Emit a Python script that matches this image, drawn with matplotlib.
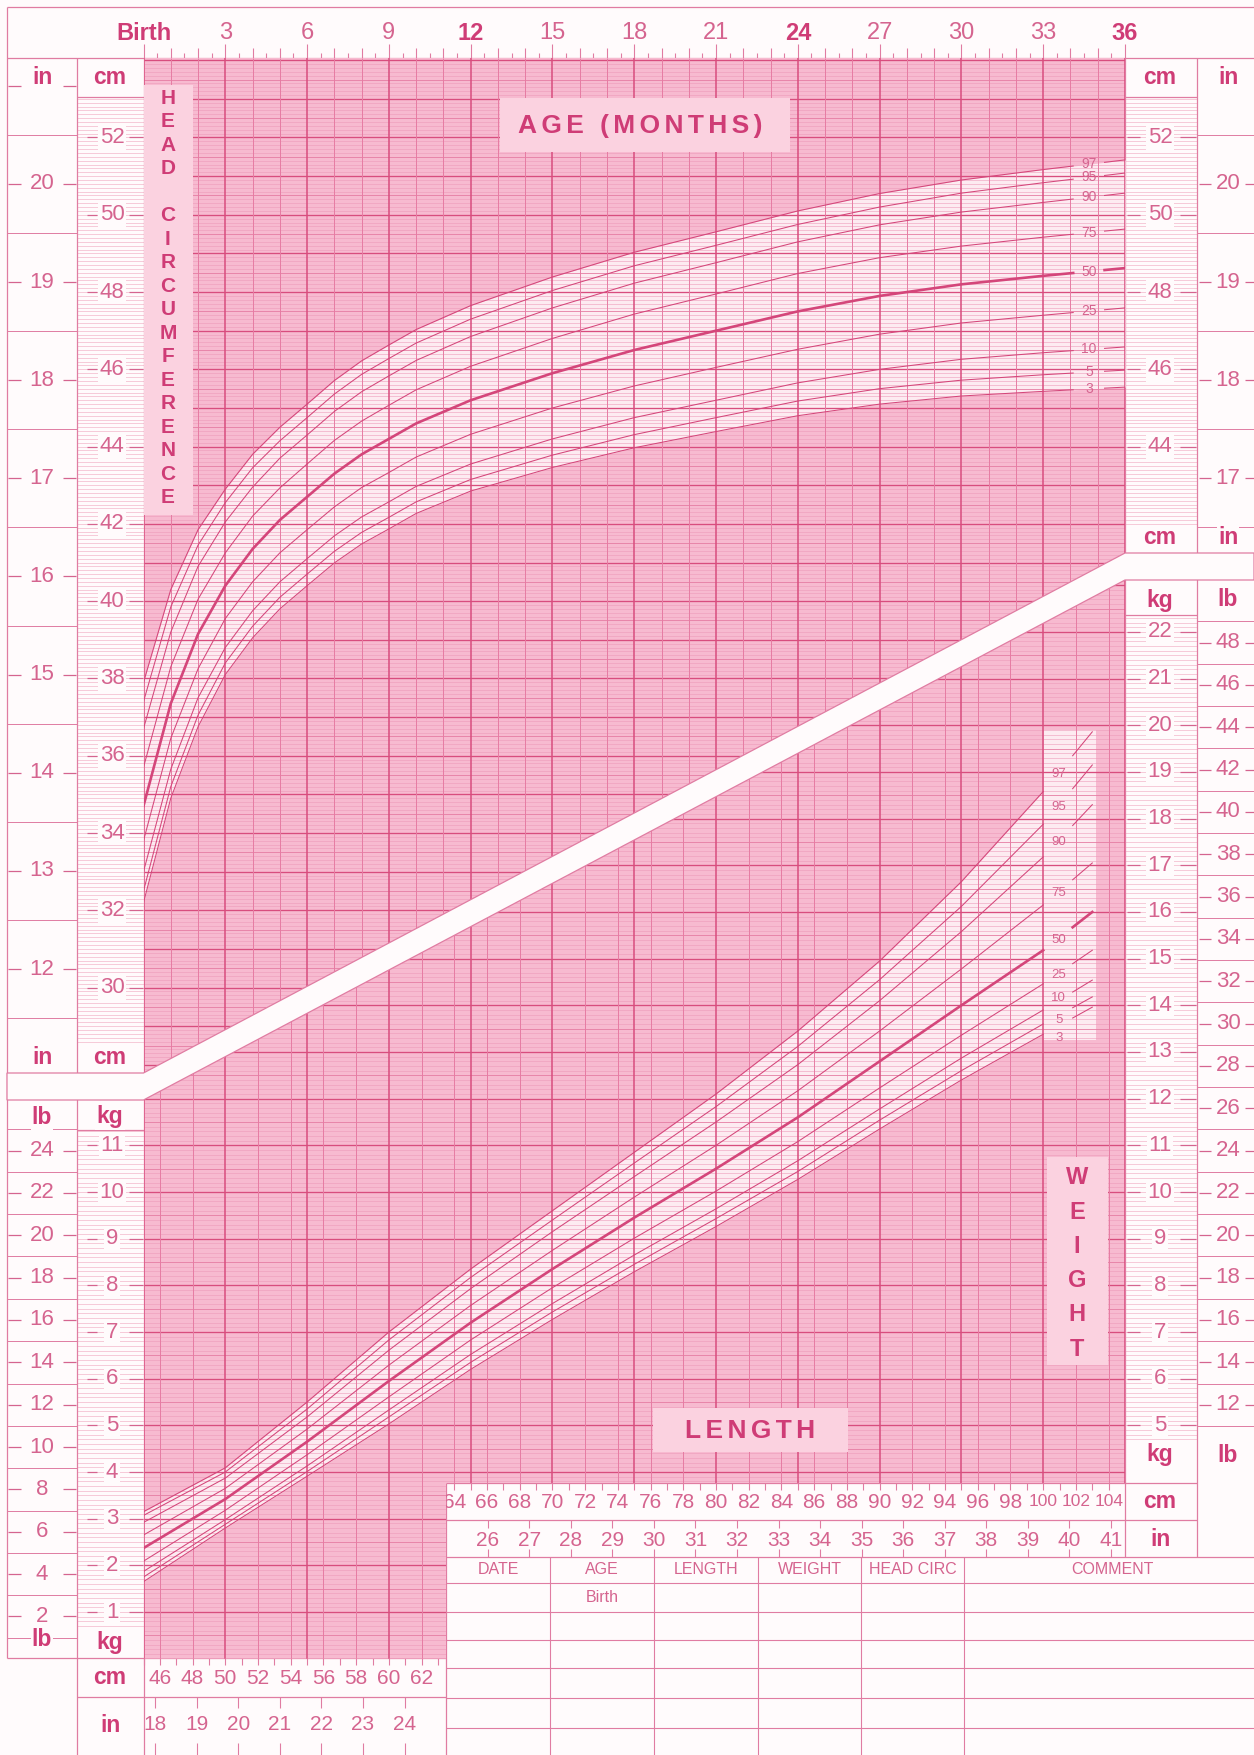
import numpy as np
import matplotlib
matplotlib.use("Agg")
import matplotlib.pyplot as plt
from matplotlib import font_manager
from matplotlib.collections import LineCollection
from matplotlib.patches import Polygon, Rectangle
from matplotlib.transforms import blended_transform_factory as blend, Affine2D

# ---------------- data ----------------
# head circumference-for-age (cm), birth to 36 months
hc_age = [0, 1, 2, 3, 4, 5, 6, 7, 8, 9, 10, 12, 15, 18, 21, 24, 27, 30, 33, 36]
hc_p97 = [37.9, 40.3, 41.85, 42.9, 43.8, 44.5, 45.1, 45.71, 46.22, 46.63, 47.03, 47.65, 48.39, 49.03, 49.56, 50.1, 50.55, 50.9, 51.17, 51.42]
hc_p95 = [37.4, 39.85, 41.45, 42.55, 43.45, 44.15, 44.75, 45.36, 45.87, 46.28, 46.68, 47.3, 48.04, 48.68, 49.21, 49.75, 50.2, 50.56, 50.83, 51.08]
hc_p90 = [36.7, 39.2, 40.9, 42.05, 42.95, 43.7, 44.3, 44.91, 45.42, 45.83, 46.23, 46.85, 47.59, 48.23, 48.76, 49.3, 49.74, 50.07, 50.32, 50.56]
hc_p75 = [35.7, 38.3, 40.05, 41.25, 42.2, 42.93, 43.55, 44.16, 44.66, 45.07, 45.47, 46.08, 46.8, 47.43, 47.95, 48.48, 48.89, 49.19, 49.42, 49.63]
hc_p50 = [34.7, 37.35, 39.15, 40.4, 41.35, 42.1, 42.7, 43.3, 43.8, 44.2, 44.6, 45.2, 45.9, 46.5, 47.0, 47.5, 47.9, 48.2, 48.42, 48.62]
hc_p25 = [33.8, 36.45, 38.25, 39.55, 40.5, 41.25, 41.85, 42.44, 42.94, 43.33, 43.73, 44.32, 45.0, 45.57, 46.05, 46.52, 46.91, 47.2, 47.4, 47.59]
hc_p10 = [33.0, 35.65, 37.5, 38.8, 39.75, 40.5, 41.1, 41.69, 42.18, 42.57, 42.97, 43.55, 44.2, 44.75, 45.2, 45.65, 46.0, 46.26, 46.43, 46.58]
hc_p5 = [32.5, 35.2, 37.05, 38.4, 39.35, 40.1, 40.7, 41.29, 41.78, 42.17, 42.57, 43.15, 43.78, 44.31, 44.75, 45.18, 45.5, 45.72, 45.86, 45.98]
hc_p3 = [32.2, 34.9, 36.75, 38.1, 39.05, 39.8, 40.4, 40.99, 41.48, 41.87, 42.27, 42.85, 43.46, 43.97, 44.39, 44.8, 45.1, 45.31, 45.43, 45.54]

# weight-for-length (kg), 45 to 103 cm
wl_len = [45, 50, 55, 60, 65, 70, 75, 80, 85, 90, 95, 100, 103]
wl_p97 = [3.15, 4.09, 5.50, 7.00, 8.35, 9.60, 10.85, 12.10, 13.45, 14.95, 16.65, 18.58, 19.86]
wl_p95 = [3.07, 4.00, 5.35, 6.83, 8.17, 9.40, 10.62, 11.83, 13.12, 14.55, 16.12, 17.88, 19.15]
wl_p90 = [2.92, 3.87, 5.18, 6.61, 7.93, 9.15, 10.33, 11.50, 12.73, 14.10, 15.58, 17.18, 18.30]
wl_p75 = [2.65, 3.65, 4.92, 6.29, 7.57, 8.75, 9.89, 11.00, 12.17, 13.45, 14.78, 16.15, 17.05]
wl_p50 = [2.37, 3.42, 4.65, 5.95, 7.20, 8.35, 9.45, 10.50, 11.60, 12.80, 14.00, 15.18, 16.00]
wl_p25 = [2.09, 3.18, 4.37, 5.61, 6.83, 7.95, 9.01, 10.02, 11.08, 12.23, 13.36, 14.46, 15.18]
wl_p10 = [1.87, 2.98, 4.13, 5.33, 6.52, 7.61, 8.65, 9.64, 10.67, 11.78, 12.87, 13.90, 14.54]
wl_p5 = [1.75, 2.88, 4.01, 5.18, 6.35, 7.43, 8.45, 9.43, 10.44, 11.54, 12.60, 13.60, 14.18]
wl_p3 = [1.65, 2.80, 3.91, 5.03, 6.20, 7.27, 8.29, 9.26, 10.27, 11.35, 12.40, 13.38, 13.96]

pct_names = ["3", "5", "10", "25", "50", "75", "90", "95", "97"]
# small vertical nudges (kg) so the crowded weight labels stay apart
wl_label_nudge = [-0.22, -0.05, 0.1, 0.0, 0.0, 0.0, 0.0, 0.0, 0.0]

month_ticks = [0, 3, 6, 9, 12, 15, 18, 21, 24, 27, 30, 33, 36]
month_labels = ["Birth", "3", "6", "9", "12", "15", "18", "21", "24", "27", "30", "33", "36"]
bold_months = ["Birth", "12", "24", "36"]

hc_cm_left = [30, 32, 34, 36, 38, 40, 42, 44, 46, 48, 50, 52]
hc_in_left = [12, 13, 14, 15, 16, 17, 18, 19, 20]
hc_cm_right = [44, 46, 48, 50, 52]
hc_in_right = [17, 18, 19, 20]
wt_kg_left = [1, 2, 3, 4, 5, 6, 7, 8, 9, 10, 11]
wt_lb_left = [2, 4, 6, 8, 10, 12, 14, 16, 18, 20, 22, 24]
wt_kg_right = [5, 6, 7, 8, 9, 10, 11, 12, 13, 14, 15, 16, 17, 18, 19, 20, 21, 22]
wt_lb_right = [12, 14, 16, 18, 20, 22, 24, 26, 28, 30, 32, 34, 36, 38, 40, 42, 44, 46, 48]
len_cm_left = [46, 48, 50, 52, 54, 56, 58, 60, 62]
len_in_left = [18, 19, 20, 21, 22, 23, 24]
len_cm_right = [64, 66, 68, 70, 72, 74, 76, 78, 80, 82, 84, 86, 88, 90, 92, 94, 96, 98, 100, 102, 104]
len_in_right = [26, 27, 28, 29, 30, 31, 32, 33, 34, 35, 36, 37, 38, 39, 40, 41]
table_cols = ["DATE", "AGE", "LENGTH", "WEIGHT", "HEAD CIRC", "COMMENT"]

# ---------------- style ----------------
names = {f.name for f in font_manager.fontManager.ttflist}
SANS = "Liberation Sans" if "Liberation Sans" in names else "DejaVu Sans"
NARROW = "Liberation Sans Narrow" if "Liberation Sans Narrow" in names else SANS
plt.rcParams["font.family"] = [SANS, "DejaVu Sans"]

PAPER = "#fffbfc"
BG = "#f7bad0"
LIGHT = "#fdebf1"
BOX = "#fbd2e0"
FINE = "#ee9bba"
MED = "#e67ca3"
DARK = "#d84d7e"
CURVE = "#d4467a"
TXT = "#cf3c76"
NUM = "#d5648f"
MLINE = "#f3b7cb"
FRAME = "#e07ca2"

W, H = 1254, 1755
X0, X1 = 143.5, 1125.0
CM_Y52, PX_CM = 137.5, 38.64       # head panel: y pixel of 52 cm, px per cm
KG0_Y, PX_KG = 1658.7, 46.67       # weight panel: y pixel of 0 kg, px per kg
HC_TOP = 52 + (CM_Y52 - 58) / PX_CM
HC_BOT = 52 - (1073 - CM_Y52) / PX_CM
HC_RB = 52 - (553 - CM_Y52) / PX_CM
KG_TOP = (KG0_Y - 580) / PX_KG
KG_LB = (KG0_Y - 1100) / PX_KG
KG_TAB = (KG0_Y - 1483) / PX_KG
LEN_TAB = 45 + (446 - X0) / ((X1 - X0) / 60)

fig = plt.figure(figsize=(W / 100, H / 100), dpi=100)
fig.patch.set_facecolor(PAPER)


def px_axes(x0, y0, x1, y1, z):
    ax = fig.add_axes([x0 / W, 1 - y1 / H, (x1 - x0) / W, (y1 - y0) / H])
    ax.set_zorder(z)
    ax.axis("off")
    return ax


base = px_axes(0, 0, W, H, 0)
base.set_xlim(0, W)
base.set_ylim(H, 0)
axh = px_axes(X0, 58, X1, 1073, 1)
axh.set_xlim(0, 36)
axh.set_ylim(HC_BOT, HC_TOP)
axw = px_axes(X0, 580, X1, KG0_Y, 1)
axw.set_xlim(45, 105)
axw.set_ylim(0, KG_TOP)
top = px_axes(0, 0, W, H, 3)
top.set_xlim(0, W)
top.set_ylim(H, 0)

T_hy = blend(base.transData, axh.transData)
T_wy = blend(base.transData, axw.transData)
T_mx = blend(axh.transData, base.transData)
T_lx = blend(axw.transData, base.transData)
T_in = blend(base.transData, Affine2D().scale(1, 2.54) + axh.transData)
T_lb = blend(base.transData, Affine2D().scale(1, 0.45359) + axw.transData)


def add_lines(ax, segs, colors, lws, clip=None, z=2, trans=None):
    lc = LineCollection(segs, colors=colors, linewidths=lws, zorder=z)
    if trans is not None:
        lc.set_transform(trans)
    ax.add_collection(lc)
    if clip is not None:
        lc.set_clip_path(clip)
    else:
        lc.set_clip_on(False)
    return lc


def grid_style(tenths):
    if tenths % 10 == 0:
        return DARK, 0.95
    if tenths % 5 == 0:
        return MED, 0.6
    return FINE, 0.4


def spaced(s):
    return "\u2006".join(s)


# ---------------- head circumference panel ----------------
head_clip = Polygon([(0, HC_TOP), (36, HC_TOP), (36, HC_RB), (0, HC_BOT)], closed=True,
                    facecolor=BG, edgecolor="none", zorder=0)
axh.add_patch(head_clip)
axh.fill_between(hc_age, hc_p3, hc_p97, color=LIGHT, lw=0, zorder=1)

segs, cols, lws = [], [], []
for t in range(277, 541):
    c, w = grid_style(t)
    segs.append([(0, t / 10), (36, t / 10)])
    cols.append(c)
    lws.append(w)
add_lines(axh, segs, cols, lws, clip=head_clip)
segs, cols, lws = [], [], []
for m in range(0, 37):
    segs.append([(m, HC_BOT - 1), (m, HC_TOP)])
    cols.append(DARK if m % 3 == 0 else MED)
    lws.append(1.1 if m % 3 == 0 else 0.7)
add_lines(axh, segs, cols, lws, clip=head_clip)

hc_series = [hc_p3, hc_p5, hc_p10, hc_p25, hc_p50, hc_p75, hc_p90, hc_p95, hc_p97]
for name, s in zip(pct_names, hc_series):
    lw = 1.9 if name == "50" else 0.75
    a = [v for v in hc_age if v <= 34.1] + [34.1]
    axh.plot(a, np.interp(a, hc_age, s), color=CURVE, lw=lw, zorder=4)
    axh.plot([35.25, 36], np.interp([35.25, 36], hc_age, s), color=CURVE, lw=lw, zorder=4)
    axh.text(34.68, np.interp(34.68, hc_age, s), name, ha="center", va="center",
             fontsize=10, color=NUM, family=[NARROW, "DejaVu Sans"], zorder=5)

# ---------------- weight-for-length panel ----------------
wt_clip = Polygon([(45, 0), (45, KG_LB), (105, KG_TOP), (105, KG_TAB), (LEN_TAB, KG_TAB),
                   (LEN_TAB, 0)], closed=True, facecolor=BG, edgecolor="none", zorder=0)
axw.add_patch(wt_clip)
axw.fill_between(wl_len, wl_p3, wl_p97, color=LIGHT, lw=0, zorder=1)
axw.add_patch(Rectangle((100.05, 13.26), 3.2, 6.64, facecolor=LIGHT, edgecolor="none", zorder=1))

segs, cols, lws = [], [], []
for t in range(0, 232):
    c, w = grid_style(t)
    segs.append([(45, t / 10), (105, t / 10)])
    cols.append(c)
    lws.append(w)
add_lines(axw, segs, cols, lws, clip=wt_clip)
segs, cols, lws = [], [], []
for L in range(45, 106):
    if L % 5 == 0:
        segs.append([(L, 0), (L, KG_TOP)]); cols.append(DARK); lws.append(1.1)
    elif L % 2 == 0:
        segs.append([(L, 0), (L, KG_TOP)]); cols.append(MED); lws.append(0.7)
add_lines(axw, segs, cols, lws, clip=wt_clip)

wl_series = [wl_p3, wl_p5, wl_p10, wl_p25, wl_p50, wl_p75, wl_p90, wl_p95, wl_p97]
for name, s, nud in zip(pct_names, wl_series, wl_label_nudge):
    lw = 1.9 if name == "50" else 0.75
    axw.plot([v for v in wl_len if v <= 100], [y for v, y in zip(wl_len, s) if v <= 100],
             color=CURVE, lw=lw, zorder=4)
    axw.plot([101.8, 103], np.interp([101.8, 103], wl_len, s), color=CURVE, lw=lw, zorder=4)
    axw.text(100.95, np.interp(101.0, wl_len, s) - 0.05 + nud, name, ha="center", va="center",
             fontsize=9.5, color=NUM, family=[NARROW, "DejaVu Sans"], zorder=5)

# ---------------- margins: scale columns ----------------
def col_lines(trans, x0, x1, vals, color=MLINE, lw=0.5):
    add_lines(base, [[(x0, v), (x1, v)] for v in vals], color, lw, trans=trans, z=1)


def scale(trans, vals, xc, d1, d2, size=16):
    for v in vals:
        base.text(xc, v, str(v), transform=trans, ha="center", va="center", fontsize=size,
                  color=NUM, zorder=6,
                  bbox=dict(boxstyle="square,pad=0.08", fc=PAPER, ec="none"))
    segs = [[(d1[0], v), (d1[1], v)] for v in vals] + [[(d2[0], v), (d2[1], v)] for v in vals]
    add_lines(base, segs, NUM, 0.9, trans=trans, z=5)


# head, left: cm fine lines, inch half lines
col_lines(T_hy, 77, X0, [t / 10 for t in range(286, 531)])
col_lines(T_in, 7, 77, [k + 0.5 for k in range(11, 21)], color=FRAME, lw=0.7)
scale(T_hy, hc_cm_left, 112, (87, 97), (129, 143), 16)
scale(T_in, hc_in_left, 42, (8, 21), (63, 76), 16)
add_lines(base, [[(8, 21), (21, 21)], [(63, 21), (76, 21)]], NUM, 0.9, trans=T_in, z=5)
# head, right
col_lines(T_hy, X1, 1197, [t / 10 for t in range(420, 531)])
col_lines(T_in, 1197, W, [k + 0.5 for k in range(16, 21)], color=FRAME, lw=0.7)
scale(T_hy, hc_cm_right, 1160, (1127, 1140), (1180, 1196), 16)
scale(T_in, hc_in_right, 1228, (1199, 1211), (1245, W), 16)

# weight, left
col_lines(T_wy, 77, X0, [t / 10 for t in range(7, 114)])
col_lines(T_lb, 7, 77, [k for k in range(1, 26, 2)], color=FRAME, lw=0.7)
scale(T_wy, wt_kg_left, 112, (87, 97), (129, 143), 16)
scale(T_lb, wt_lb_left, 42, (8, 21), (63, 76), 16)
# weight, right
col_lines(T_wy, X1, 1197, [t / 10 for t in range(47, 224)])
col_lines(T_lb, 1197, W, [k for k in range(11, 50, 2)], color=FRAME, lw=0.7)
scale(T_wy, wt_kg_right, 1160, (1127, 1140), (1180, 1196), 16)
scale(T_lb, wt_lb_right, 1228, (1199, 1211), (1245, W), 16)

# ---------------- frames ----------------
frame = [
    [(7, 7), (W, 7)], [(7, 7), (7, 1658)], [(7, 58), (W, 58)],
    [(77, 58), (77, H)], [(X0, 58), (X0, H)], [(7, 1658), (446, 1658)],
    [(77, 1697), (446, 1697)], [(446, 1483), (446, H)], [(X1, 58), (X1, 1557)],
    [(1197, 58), (1197, 1557)], [(446, 1483), (1197, 1483)], [(446, 1520), (1197, 1520)],
    [(446, 1557), (W, 1557)], [(77, 97), (X0, 97)], [(77, 1130), (X0, 1130)],
    [(X1, 97), (1197, 97)], [(X1, 615), (1197, 615)],
]
add_lines(base, frame, FRAME, 0.9, z=3)

# record table
tab_y = [1583, 1612, 1640, 1668, 1698, 1728]
tab_x = [446, 550, 654, 758, 861, 964, W]
add_lines(base, [[(446, y), (W, y)] for y in tab_y], FRAME, 0.8, z=3)
add_lines(base, [[(x, 1557), (x, H)] for x in tab_x[1:-1]], FRAME, 0.8, z=3)
for i, name in enumerate(table_cols):
    xc = (tab_x[i] + tab_x[i + 1]) / 2 if name != "COMMENT" else 1112
    base.text(xc, 1570, name, ha="center", va="center", fontsize=11.5, color=NUM,
              family=[NARROW, "DejaVu Sans"])
base.text(602, 1597, "Birth", ha="center", va="center", fontsize=11.5, color=NUM,
          family=[NARROW, "DejaVu Sans"])

# white band between the two charts
band = Polygon([(7, 1073), (X0, 1073), (X1, 553), (W, 553), (W, 580), (X1, 580),
                (X0, 1100), (7, 1100)], closed=True, facecolor=PAPER, edgecolor=FRAME,
               lw=0.9, zorder=4)
top.add_patch(band)

# ---------------- age ruler ----------------
ticks = []
for k in range(0, 73):
    ln = 14 if k % 6 == 0 else (10 if k % 2 == 0 else 5)
    ticks.append([(k / 2, 58), (k / 2, 58 - ln)])
add_lines(base, ticks, FRAME, 0.8, trans=T_mx, z=3)
for m, lab in zip(month_ticks, month_labels):
    bold = lab in bold_months
    base.text(m, 33, lab, transform=T_mx, ha="center", va="center", fontsize=17,
              color=TXT if bold else NUM, fontweight="bold" if bold else "normal")

# ---------------- length rulers ----------------
ticks = [[(L, 1658), (L, 1665)] for L in range(45, 64)]
ticks += [[(L, 1483), (L, 1490)] for L in range(64, 105)]
ticks += [[(i * 2.54, 1697), (i * 2.54, 1708)] for i in range(18, 25)]
ticks += [[(i * 2.54, 1743), (i * 2.54, H)] for i in range(18, 25)]
ticks += [[(i * 2.54, 1520), (i * 2.54, 1528)] for i in range(26, 42)]
ticks += [[(i * 2.54, 1549), (i * 2.54, 1557)] for i in range(26, 42)]
add_lines(base, ticks, FRAME, 0.8, trans=T_lx, z=3)
for L in len_cm_left:
    base.text(L, 1678, str(L), transform=T_lx, ha="center", va="center", fontsize=15, color=NUM)
for L in len_cm_right:
    base.text(L, 1502, str(L), transform=T_lx, ha="center", va="center",
              fontsize=12.5 if L >= 100 else 15, color=NUM)
for i in len_in_left:
    base.text(i * 2.54, 1725, str(i), transform=T_lx, ha="center", va="center", fontsize=15, color=NUM)
for i in len_in_right:
    base.text(i * 2.54, 1540, str(i), transform=T_lx, ha="center", va="center", fontsize=15, color=NUM)

# ---------------- unit headers ----------------
units = [("in", 42, 77), ("cm", 110, 77), ("in", 42, 1058), ("cm", 110, 1058),
         ("cm", 1160, 77), ("in", 1228, 77), ("cm", 1160, 538), ("in", 1228, 538),
         ("lb", 42, 1117), ("kg", 110, 1117), ("lb", 42, 1640), ("kg", 110, 1643),
         ("kg", 1160, 600), ("lb", 1228, 600), ("kg", 1160, 1455), ("lb", 1228, 1455),
         ("cm", 110, 1677), ("in", 110, 1725), ("cm", 1160, 1502), ("in", 1160, 1540)]
for s, x, y in units:
    base.text(x, y, s, ha="center", va="center", fontsize=16.5, fontweight="bold",
              color=TXT, zorder=7, bbox=dict(boxstyle="square,pad=0.05", fc=PAPER, ec="none"))

# ---------------- title boxes ----------------
for (x0, y0, x1, y1) in [(X0, 85, 193, 515), (500, 98, 790, 152), (653, 1408, 848, 1452),
                         (1047, 1157, 1108, 1365)]:
    top.add_patch(Rectangle((x0, y0), x1 - x0, y1 - y0, facecolor=BOX, edgecolor="none", zorder=2))
for i, ch in enumerate("HEAD CIRCUMFERENCE"):
    top.text(168, 98 + i * 23.5, ch, ha="center", va="center", fontsize=15, fontweight="bold",
             color=TXT, family=[NARROW, "DejaVu Sans"], zorder=5)
for i, ch in enumerate("WEIGHT"):
    top.text(1077, 1178 + i * 34.2, ch, ha="center", va="center", fontsize=17,
             fontweight="bold", color=TXT, zorder=5)
top.text(640, 126, spaced("AGE (MONTHS)"), ha="center", va="center", fontsize=19,
         fontweight="bold", color=TXT, zorder=5)
top.text(750, 1431, spaced("LENGTH"), ha="center", va="center", fontsize=19,
         fontweight="bold", color=TXT, zorder=5)

fig.savefig("out.png", dpi=100, facecolor=PAPER)
